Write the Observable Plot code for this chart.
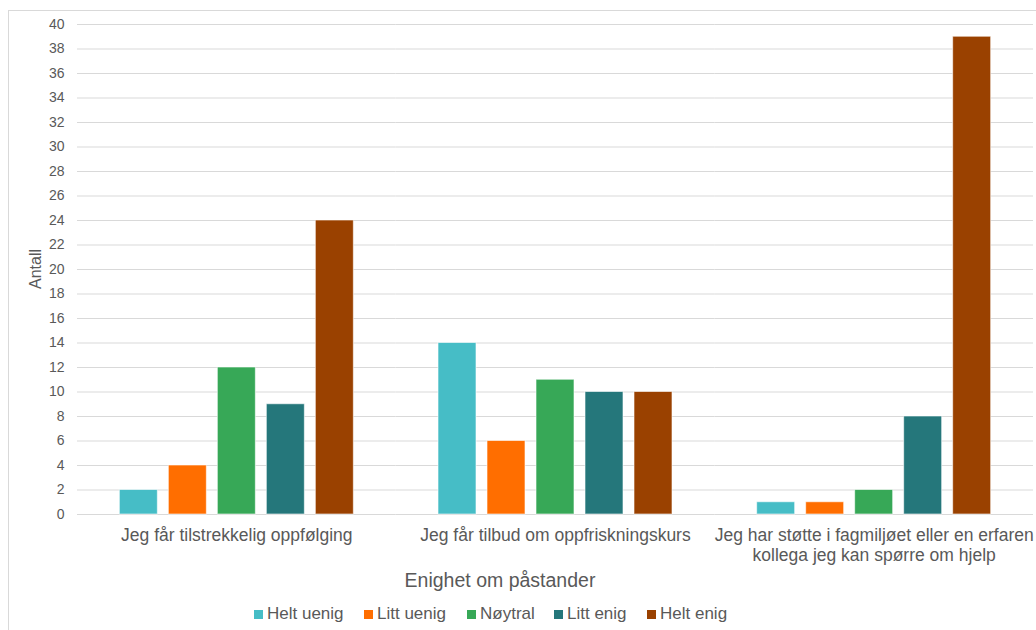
<!DOCTYPE html>
<html><head><meta charset="utf-8">
<script src="https://cdn.jsdelivr.net/npm/d3@7"></script>
<script src="https://cdn.jsdelivr.net/npm/@observablehq/plot@0.6"></script>
<style>
body{margin:0;background:#fff;font-family:"Liberation Sans",Arial,sans-serif;width:1036px;height:630px;overflow:hidden;position:relative}
#frame{position:absolute;left:8px;top:10px;width:1100px;height:700px;border:1px solid #d9d9d9;box-sizing:border-box}
#chart{position:absolute;left:0;top:0}
#xtitle{position:absolute;top:568px;left:300px;width:400px;text-align:center;font-size:19.5px;color:#595959;line-height:24px}
#legend{position:absolute;top:604px;left:0;width:1036px;height:22px;font-size:17px;color:#595959}
#legend span.it{position:absolute;top:0;display:flex;align-items:center;line-height:20px;white-space:nowrap}
#legend i{display:inline-block;width:9px;height:9px;margin-right:4px}
</style></head>
<body>
<div id="frame"></div>
<div id="chart"></div>
<div id="xtitle">Enighet om påstander</div>
<div id="legend"></div>
<script>
const categories = ["Jeg får tilstrekkelig oppfølging", "Jeg får tilbud om oppfriskningskurs", "Jeg har støtte i fagmiljøet eller en erfaren\nkollega jeg kan spørre om hjelp"];
const series = ["Helt uenig", "Litt uenig", "Nøytral", "Litt enig", "Helt enig"];
const colors = ["#46BDC6", "#FF6E00", "#37A857", "#25777B", "#9A4100"];
const values = [
  [2, 4, 12, 9, 24],
  [14, 6, 11, 10, 10],
  [1, 1, 2, 8, 39]
];
const yTicks = d3.range(0, 41, 2);
const legendLefts = [254, 364, 467, 554, 647];

const data = [];
categories.forEach((c, i) => series.forEach((s, j) => data.push({category: c, series: s, value: values[i][j]})));

const chart = Plot.plot({
  width: 1036,
  height: 565,
  marginTop: 24,
  marginLeft: 77,
  marginRight: 3,
  marginBottom: 51,
  style: {fontFamily: '"Liberation Sans", Arial, sans-serif', color: "#595959", background: "transparent"},
  fx: {domain: categories, padding: 0, round: false},
  x: {domain: series, paddingInner: 0.2245, paddingOuter: 0.864, round: false, axis: null},
  y: {domain: [0, 40]},
  color: {domain: series, range: colors},
  marks: [
    Plot.gridY(yTicks, {stroke: "#d9d9d9", strokeOpacity: 1, strokeWidth: 1}),
    Plot.axisY(yTicks, {tickSize: 0, tickPadding: 13, fontSize: 14, fill: "#595959", label: null}),
    Plot.axisFx({anchor: "bottom", tickSize: 0, tickPadding: 12, fontSize: 17.5, fill: "#595959", label: null, lineHeight: 1.15, lineAnchor: "top"}),
    Plot.barY(data, {fx: "category", x: "series", y: "value", fill: "series", stroke: "#ffffff", strokeOpacity: 0.6, strokeWidth: 1})
  ]
});
document.getElementById("chart").appendChild(chart);

// y axis title
const svg = d3.select(chart);
svg.append("text")
  .attr("transform", "translate(41,269) rotate(-90)")
  .attr("text-anchor", "middle")
  .attr("font-size", 16)
  .attr("fill", "#595959")
  .text("Antall");

const legend = document.getElementById("legend");
series.forEach((s, j) => {
  const it = document.createElement("span");
  it.className = "it";
  it.style.left = legendLefts[j] + "px";
  it.innerHTML = `<i style="background:${colors[j]}"></i>${s}`;
  legend.appendChild(it);
});
</script>
</body></html>
